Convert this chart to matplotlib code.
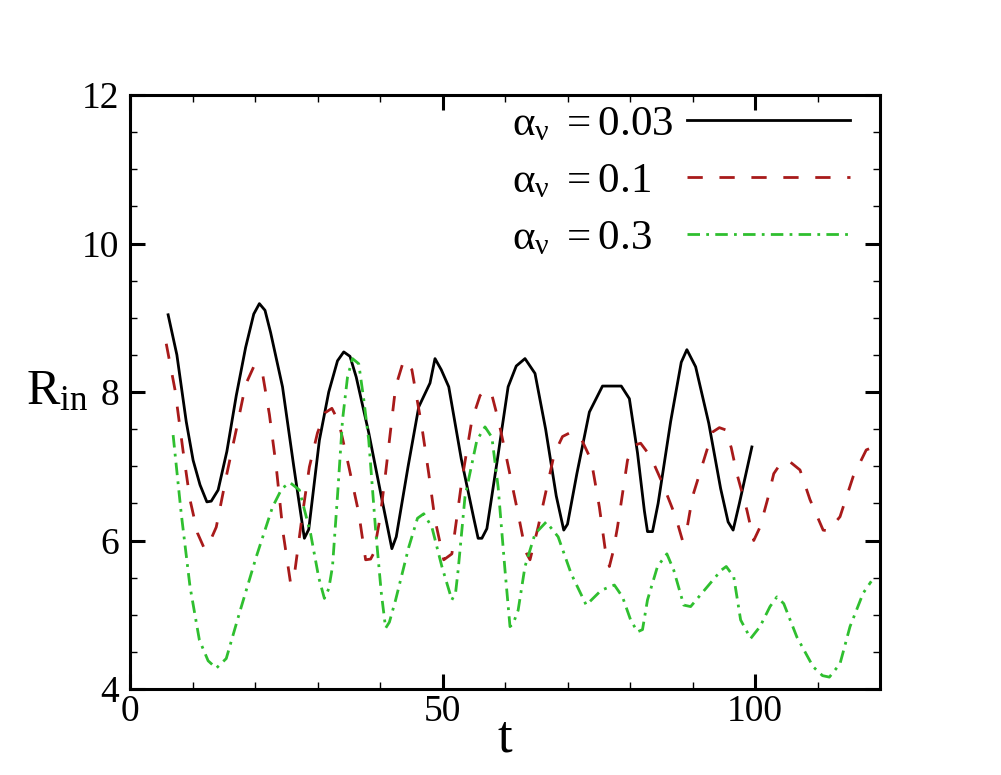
import matplotlib
matplotlib.use("Agg")
import matplotlib.pyplot as plt
from matplotlib.ticker import MultipleLocator

# ---------------- data ----------------
alpha_labels = ["0.03", "0.1", "0.3"]

t_003 = [6.1, 7.5, 9.0, 10.1, 11.2, 12.3, 13.0, 14.1, 15.5, 17.0, 18.5, 19.8, 20.7, 21.6, 22.5,
         24.4, 26.2, 27.9, 28.6, 30.3, 31.8, 33.2, 34.2, 35.2, 36.2, 38.2, 40.2, 41.9, 42.6,
         44.5, 46.2, 48.0, 48.8, 49.8, 51.0, 53.0, 55.0, 55.7, 56.3, 57.1, 58.8, 60.5, 61.8,
         63.2, 64.8, 66.5, 68.2, 69.4, 70.0, 71.5, 73.5, 75.6, 78.6, 79.9, 81.2, 82.3, 82.8,
         83.6, 84.5, 86.5, 88.2, 89.1, 90.5, 92.6, 94.5, 95.7, 96.5, 97.5, 99.5]
r_003 = [9.04, 8.5, 7.6, 7.08, 6.75, 6.52, 6.53, 6.68, 7.2, 7.95, 8.6, 9.05, 9.19, 9.1, 8.8,
         8.07, 7.0, 6.03, 6.15, 7.35, 8.0, 8.42, 8.54, 8.48, 8.2, 7.45, 6.6, 5.89, 6.05,
         7.0, 7.80, 8.12, 8.45, 8.3, 8.07, 7.1, 6.3, 6.03, 6.03, 6.16, 7.1, 8.07, 8.35,
         8.45, 8.25, 7.5, 6.6, 6.14, 6.22, 6.9, 7.73, 8.08, 8.08, 7.91, 7.18, 6.4, 6.12,
         6.12, 6.5, 7.6, 8.4, 8.57, 8.34, 7.58, 6.7, 6.25, 6.14, 6.5, 7.26]

t_01 = [5.8, 7.2, 8.5, 9.6, 10.8, 11.9, 12.6, 13.8, 15.5, 17.0, 18.5, 19.9, 21.2, 22.3, 23.4,
        24.5, 25.7, 26.4, 27.5, 28.7, 30.0, 31.2, 32.3, 33.4, 35.0, 36.6, 37.7, 38.5, 39.0,
        40.0, 40.9, 42.5, 43.8, 45.1, 46.7, 47.8, 48.8, 50.2, 51.5, 53.1, 54.7, 56.0, 56.8,
        57.9, 59.0, 60.2, 62.1, 63.3, 64.0, 65.3, 66.6, 67.9, 69.2, 70.6, 72.2, 73.8, 75.1,
        76.0, 76.7, 77.3, 78.0, 79.6, 80.6, 81.7, 83.3, 85.2, 87.3, 88.4, 89.2, 90.0, 91.8,
        93.2, 94.3, 95.3, 96.2, 97.1, 98.7, 99.8, 100.8, 102.0, 103.0, 104.2, 105.3, 107.2,
        108.8, 110.9, 111.7, 113.6, 115.7, 117.8, 118.4, 119.2]
r_01 = [8.65, 8.03, 7.2, 6.55, 6.1, 5.89, 5.95, 6.18, 6.9, 7.49, 8.1, 8.36, 8.25, 7.7, 6.99,
        6.1, 5.42, 5.6, 6.3, 6.99, 7.45, 7.72, 7.78, 7.6, 7.0, 6.37, 5.74, 5.75, 5.83,
        6.3, 6.91, 8.07, 8.43, 8.30, 7.53, 6.9, 6.28, 5.74, 5.82, 6.81, 7.62, 7.95, 8.03,
        7.96, 7.6, 7.13, 6.36, 5.85, 5.74, 6.18, 6.68, 7.17, 7.4, 7.46, 7.37, 7.08, 6.45,
        5.9, 5.65, 5.85, 6.18, 7.08, 7.28, 7.31, 7.13, 6.77, 6.32, 6.0, 6.2, 6.59, 7.08,
        7.46, 7.52, 7.49, 7.25, 6.9, 6.41, 6.0, 6.18, 6.55, 6.9, 7.05, 7.08, 6.95,
        6.55, 6.14, 6.13, 6.32, 6.86, 7.22, 7.24, 7.17]

t_03 = [6.9, 8.2, 9.6, 11.1, 12.5, 13.8, 15.4, 17.5, 20.2, 22.8, 24.3, 25.6, 27.1, 28.9, 30.2,
        31.1, 31.8, 32.4, 33.2, 34.0, 34.8, 35.6, 36.6, 37.4, 38.2, 39.3, 40.2, 40.9, 41.5,
        42.5, 44.6, 46.0, 47.0, 48.3, 49.9, 51.5, 52.1, 52.5, 53.6, 55.5, 56.8, 57.9, 58.9,
        60.0, 60.8, 61.3, 62.1, 63.2, 64.8, 66.6, 68.5, 70.6, 73.0, 75.4, 77.5, 78.8, 80.1,
        81.2, 82.0, 82.8, 84.4, 85.9, 87.0, 88.6, 89.7, 92.4, 94.6, 95.4, 96.6, 97.7, 99.3,
        100.8, 102.4, 103.5, 104.6, 106.7, 109.3, 110.8, 111.9, 113.6, 115.2, 117.3, 118.6]
r_03 = [7.42, 6.36, 5.38, 4.66, 4.38, 4.28, 4.41, 5.02, 5.78, 6.45, 6.7, 6.78, 6.68, 6.09, 5.5,
        5.22, 5.35, 5.65, 6.6, 7.62, 8.2, 8.45, 8.38, 7.9, 7.35, 6.14, 5.3, 4.82, 4.9,
        5.2, 5.91, 6.3, 6.36, 6.18, 5.65, 5.2, 5.3, 5.6, 6.59, 7.35, 7.53, 7.39, 6.72,
        5.6, 4.84, 4.88, 5.06, 5.65, 6.09, 6.25, 6.05, 5.55, 5.13, 5.33, 5.4, 5.24, 4.93,
        4.77, 4.8, 5.2, 5.65, 5.82, 5.6, 5.13, 5.11, 5.38, 5.6, 5.65, 5.51, 4.93, 4.68,
        4.84, 5.11, 5.24, 5.15, 4.70, 4.30, 4.18, 4.16, 4.34, 4.84, 5.29, 5.45]

# ---------------- style ----------------
plt.rcParams['font.family'] = ['Liberation Serif', 'DejaVu Serif']
plt.rcParams['mathtext.fontset'] = 'custom'
plt.rcParams['mathtext.rm'] = 'Liberation Serif'
plt.rcParams['mathtext.it'] = 'Liberation Serif'
plt.rcParams['mathtext.bf'] = 'Liberation Serif:bold'
plt.rcParams['lines.scale_dashes'] = False

fig = plt.figure(figsize=(10.01, 7.75), dpi=100)
ax = fig.add_axes([130/1001, 86/775, 750/1001, 594/775])

def lab(v):
    return r'$\alpha_{\nu}\ = ' + v + '$'

ax.plot(t_003, r_003, color='black', lw=2.0, ls='-', label=lab(alpha_labels[0]))
ax.plot(t_01, r_01, color='#a81a1a', lw=2.0, ls=(0, (11, 12)), label=lab(alpha_labels[1]))
ax.plot(t_03, r_03, color='#2fbf2f', lw=2.0, ls=(0, (9, 4.5, 2, 4.5)), label=lab(alpha_labels[2]))

ax.set_xlim(0, 120)
ax.set_ylim(4, 12)
ax.xaxis.set_major_locator(MultipleLocator(50))
ax.xaxis.set_minor_locator(MultipleLocator(10))
ax.yaxis.set_major_locator(MultipleLocator(2))
ax.yaxis.set_minor_locator(MultipleLocator(0.5))

for s in ax.spines.values():
    s.set_linewidth(2.2)

ax.tick_params(which='both', direction='in', top=True, right=True)
ax.tick_params(which='major', length=11, width=2.2, labelsize=27)
ax.tick_params(which='minor', length=5, width=1.0)
ax.tick_params(axis='y', which='major', pad=8)
ax.tick_params(axis='x', which='major', pad=4)

ax.set_xlabel('t', fontsize=38)
ax.xaxis.set_label_coords(0.5, -0.084)
ax.xaxis.label.set_va('center')

ax.set_ylabel(r'$\mathrm{R}_{\mathrm{in}}$', fontsize=36, rotation=0)
ax.yaxis.set_label_coords(-0.138, 0.50)
ax.yaxis.label.set_ha('left')
ax.yaxis.label.set_va('center')

leg = ax.legend(loc='upper left', bbox_to_anchor=(0.51, 0.983), frameon=False,
                markerfirst=False, fontsize=31, handlelength=3.8, handletextpad=0.3,
                labelspacing=0.41, borderpad=0, borderaxespad=0)

# left-align the labels and keep the sample lines in one column
fig.canvas.draw()
renderer = fig.canvas.get_renderer()
try:
    col = leg._legend_handle_box.get_children()[0]
    col.align = 'left'
    rows = col.get_children()
    widths = [r.get_children()[0].get_bbox(renderer).width for r in rows]
    wmax = max(widths)
    for r, w in zip(rows, widths):
        r.sep = r.sep + (wmax - w) * 72.0 / fig.dpi
except Exception:
    pass

fig.savefig('out.png', dpi=100)
